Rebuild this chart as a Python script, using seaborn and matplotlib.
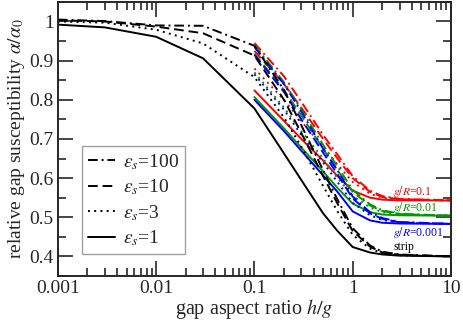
import matplotlib
matplotlib.use("Agg")
import matplotlib.pyplot as plt
import seaborn as sns
from matplotlib.ticker import LogLocator, MultipleLocator, FixedLocator, FixedFormatter

# strip curves, full range
x_strip = [0.001, 0.003, 0.01, 0.03, 0.1, 0.2, 0.3, 0.5, 0.7, 1, 1.5, 2, 3, 10]
strip_eps1 = [0.992, 0.985, 0.961, 0.906, 0.778, 0.663, 0.595, 0.510, 0.465, 0.424, 0.410, 0.405, 0.402, 0.400]
strip_eps3 = [1.000, 0.997, 0.979, 0.944, 0.858, 0.755, 0.680, 0.580, 0.515, 0.455, 0.420, 0.408, 0.403, 0.400]
strip_eps10 = [1.003, 1.000, 0.987, 0.970, 0.913, 0.800, 0.715, 0.605, 0.535, 0.465, 0.425, 0.410, 0.404, 0.400]
strip_eps100 = [1.005, 1.001, 0.990, 0.989, 0.938, 0.825, 0.735, 0.620, 0.545, 0.472, 0.428, 0.412, 0.405, 0.400]

# finite g/R curves, from h/g = 0.1
x_ring = [0.1, 0.2, 0.3, 0.5, 0.7, 1, 1.5, 2, 3, 10]
red_eps1 = [0.824, 0.746, 0.700, 0.645, 0.605, 0.568, 0.550, 0.545, 0.543, 0.543]
red_eps3 = [0.880, 0.800, 0.745, 0.680, 0.635, 0.590, 0.560, 0.550, 0.545, 0.543]
red_eps10 = [0.925, 0.840, 0.780, 0.700, 0.650, 0.600, 0.565, 0.552, 0.546, 0.543]
red_eps100 = [0.945, 0.860, 0.795, 0.710, 0.660, 0.605, 0.568, 0.554, 0.547, 0.543]
green_eps1 = [0.807, 0.727, 0.678, 0.617, 0.575, 0.535, 0.513, 0.507, 0.505, 0.504]
green_eps3 = [0.870, 0.780, 0.720, 0.650, 0.600, 0.555, 0.525, 0.513, 0.507, 0.504]
green_eps10 = [0.918, 0.825, 0.760, 0.675, 0.620, 0.565, 0.530, 0.516, 0.508, 0.504]
green_eps100 = [0.940, 0.845, 0.775, 0.685, 0.630, 0.570, 0.533, 0.518, 0.509, 0.504]
blue_eps1 = [0.800, 0.720, 0.670, 0.607, 0.565, 0.515, 0.492, 0.486, 0.484, 0.483]
blue_eps3 = [0.865, 0.775, 0.710, 0.640, 0.590, 0.537, 0.505, 0.493, 0.486, 0.483]
blue_eps10 = [0.915, 0.820, 0.750, 0.665, 0.610, 0.548, 0.510, 0.496, 0.487, 0.483]
blue_eps100 = [0.935, 0.840, 0.770, 0.675, 0.620, 0.553, 0.513, 0.498, 0.488, 0.483]

eps_labels = ["100", "10", "3", "1"]

sns.set_style("ticks")
plt.rcParams["font.family"] = ["Liberation Serif", "DejaVu Serif"]
plt.rcParams["mathtext.fontset"] = "stix"

styles = {
    "1": "-",
    "3": (0, (1.0, 2.2)),
    "10": (0, (5.0, 2.5)),
    "100": (0, (5.0, 2.0, 1.0, 2.0)),
}
RED, GREEN, BLUE = "#ff0000", "#009a00", "#0000ff"

fig = plt.figure(figsize=(4.63, 3.2), dpi=100)
ax = fig.add_axes([0.125, 0.1375, 0.849, 0.8565])

ring = [
    (RED, [red_eps100, red_eps10, red_eps3, red_eps1]),
    (GREEN, [green_eps100, green_eps10, green_eps3, green_eps1]),
    (BLUE, [blue_eps100, blue_eps10, blue_eps3, blue_eps1]),
]
for col, curves in ring:
    for eps, y in zip(eps_labels, curves):
        sns.lineplot(x=x_ring, y=y, color=col, linestyle=styles[eps], lw=1.4, ax=ax)

strips = [strip_eps100, strip_eps10, strip_eps3, strip_eps1]
for eps, y in zip(eps_labels, strips):
    sns.lineplot(x=x_strip, y=y, color="black", linestyle=styles[eps], lw=1.4, ax=ax,
                 label=r"$\varepsilon_s$=" + eps)

ax.set_xscale("log")
ax.set_xlim(0.001, 10)
ax.set_ylim(0.35, 1.05)

ax.yaxis.set_major_locator(FixedLocator([0.4, 0.5, 0.6, 0.7, 0.8, 0.9, 1.0]))
ax.yaxis.set_major_formatter(FixedFormatter(["0.4", "0.5", "0.6", "0.7", "0.8", "0.9", "1"]))
ax.yaxis.set_minor_locator(MultipleLocator(0.05))
ax.xaxis.set_major_locator(FixedLocator([0.001, 0.01, 0.1, 1, 10]))
ax.xaxis.set_major_formatter(FixedFormatter(["0.001", "0.01", "0.1", "1", "10"]))
ax.xaxis.set_minor_locator(LogLocator(base=10, subs=range(2, 10)))

ax.tick_params(which="both", direction="in", top=True, right=True, width=1.2, labelsize=14)
ax.tick_params(which="major", length=10.5)
ax.tick_params(which="minor", length=5.5)
ax.tick_params(axis="x", pad=3)
ax.tick_params(axis="y", pad=3)
for s in ax.spines.values():
    s.set_linewidth(1.4)

ax.set_xlabel(r"gap aspect ratio $h/g$", fontsize=14.5, labelpad=0)
ax.set_ylabel(r"relative gap susceptibility $\alpha/\alpha_0$", fontsize=14, labelpad=2)

ax.text(2.6, 0.566, r"$g/R$=0.1", color=RED, fontsize=8.5, va="center")
ax.text(2.6, 0.524, r"$g/R$=0.01", color=GREEN, fontsize=8.5, va="center")
ax.text(2.6, 0.462, r"$g/R$=0.001", color=BLUE, fontsize=8.5, va="center")
ax.text(2.6, 0.424, "strip", color="black", fontsize=8.5, va="center")

leg = ax.legend(loc="lower left", bbox_to_anchor=(0.062, 0.08), fontsize=14, frameon=True,
                fancybox=False, edgecolor="#888888", handlelength=1.4, handletextpad=0.4,
                labelspacing=0.3, borderpad=0.3, borderaxespad=0)
leg.get_frame().set_linewidth(1.0)

fig.savefig("out.png", dpi=100)
